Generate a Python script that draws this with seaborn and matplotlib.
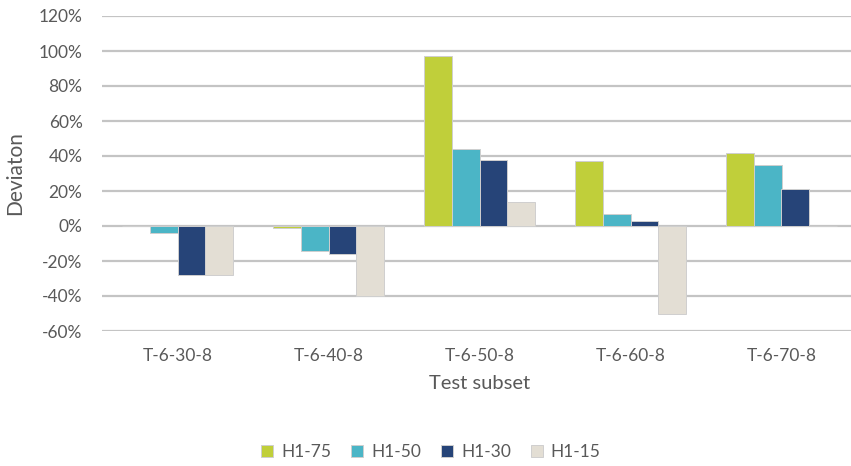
import matplotlib
matplotlib.use("Agg")
import matplotlib.pyplot as plt
import seaborn as sns
import pandas as pd
from matplotlib.ticker import PercentFormatter, MultipleLocator
from matplotlib.patches import Patch

# Deviation per test subset and heuristic variant (fractions)
subsets = ["T-6-30-8", "T-6-40-8", "T-6-50-8", "T-6-60-8", "T-6-70-8"]
series = ["H1-75", "H1-50", "H1-30", "H1-15"]
h1_75 = [0.00, -0.01, 0.97, 0.37, 0.42]
h1_50 = [-0.04, -0.14, 0.44, 0.07, 0.35]
h1_30 = [-0.28, -0.16, 0.38, 0.03, 0.21]
h1_15 = [-0.28, -0.40, 0.14, -0.50, 0.00]
colors = ["#C0CF3A", "#4BB5C6", "#264478", "#E3DED4"]

values = {"H1-75": h1_75, "H1-50": h1_50, "H1-30": h1_30, "H1-15": h1_15}
rows = []
for name in series:
    for subset, v in zip(subsets, values[name]):
        rows.append({"subset": subset, "series": name, "value": v})
df = pd.DataFrame(rows)

sns.set_theme(style="white")
plt.rcParams["font.family"] = ["Lato", "DejaVu Sans"]
plt.rcParams["axes.unicode_minus"] = False
text_color = "#595959"

W, H = 851, 466
fig = plt.figure(figsize=(W / 100, H / 100), dpi=100)
ax = fig.add_axes([102 / W, (H - 331) / H, 755 / W, (331 - 16) / H])

sns.barplot(data=df, x="subset", y="value", hue="series", order=subsets,
            hue_order=series, palette=colors, saturation=1, width=0.73, ax=ax,
            edgecolor="#CFCFCF", linewidth=0.7, legend=False, zorder=3)

ax.set_xlim(-0.5, 4.5)
ax.set_ylim(-0.6, 1.2)
ax.yaxis.set_major_locator(MultipleLocator(0.2))
ax.yaxis.set_major_formatter(PercentFormatter(1.0, decimals=0))
ax.grid(axis="y", color="#C4C4C4", linewidth=1.6, zorder=0)
ax.set_axisbelow(True)
for s in ax.spines.values():
    s.set_visible(False)
ax.tick_params(axis="y", length=0, pad=14, labelsize=12.5, labelcolor=text_color)
ax.tick_params(axis="x", length=0, pad=12, labelsize=12.5, labelcolor=text_color)
ax.set_xlabel("Test subset", fontsize=14.5, color=text_color, labelpad=8)
ax.set_ylabel("Deviaton", fontsize=15, color=text_color, labelpad=10)

handles = [Patch(facecolor=c, edgecolor="#CFCFCF", linewidth=0.7) for c in colors]
fig.legend(handles, series, loc="center", bbox_to_anchor=(431 / W, 1 - 452 / H),
           ncol=4, frameon=False, fontsize=12.5, labelcolor=text_color,
           handlelength=0.7, handleheight=0.7, handletextpad=0.45,
           columnspacing=1.15)

fig.savefig("out.png", dpi=100)
